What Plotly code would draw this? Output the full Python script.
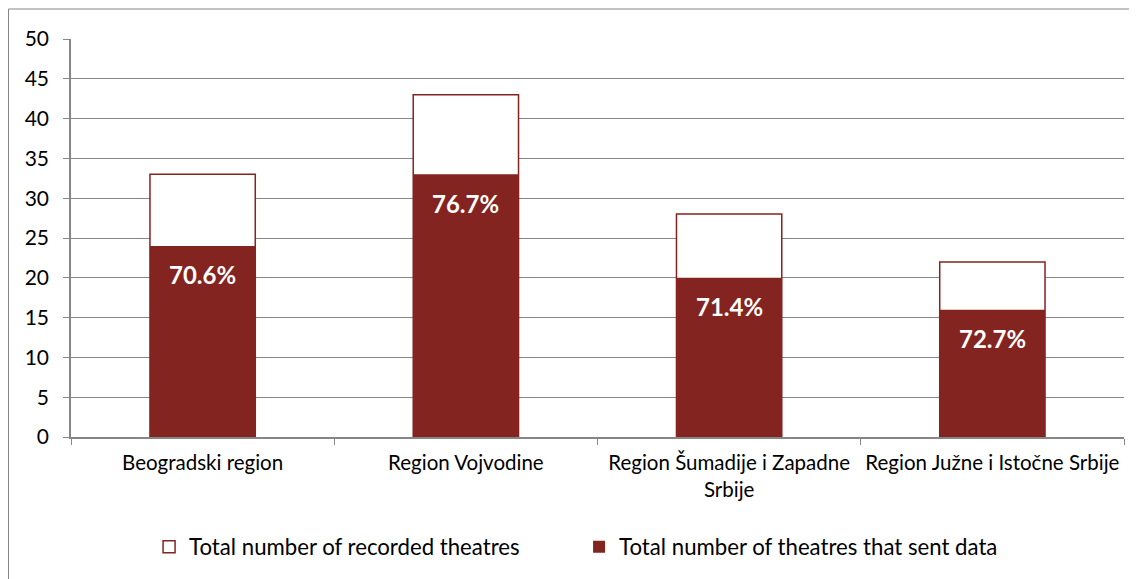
import plotly.graph_objects as go

categories = ["Beogradski region", "Region Vojvodine", "Region Šumadije i Zapadne Srbije", "Region Južne i Istočne Srbije"]
tick_labels = ["Beogradski region", "Region Vojvodine", "Region Šumadije i Zapadne<br>Srbije", "Region Južne i Istočne Srbije"]
total_recorded = [33, 43, 28, 22]
sent_data = [24, 33, 20, 16]
pct_labels = ["70.6%", "76.7%", "71.4%", "72.7%"]

RED = "#842420"
GRAY = "#868686"
FONT = "Lato"

W, H = 1129, 571
ML, MR, MT, MB = 63, 13, 31, 142
PW, PH = W - ML - MR, H - MT - MB

fig = go.Figure()
fig.add_trace(go.Bar(
    x=categories, y=total_recorded, name="Total number of recorded theatres",
    marker=dict(color="white", line=dict(color=RED, width=1.5)), width=0.4,
))
fig.add_trace(go.Bar(
    x=categories, y=sent_data, name="Total number of theatres that sent data",
    marker=dict(color=RED, line=dict(color=RED, width=0)), width=0.4,
))

for c, v, t in zip(categories, sent_data, pct_labels):
    fig.add_annotation(x=c, y=v, text="<b>" + t + "</b>", showarrow=False,
                       yshift=-29, font=dict(family=FONT, size=24, color="white"))

fig.add_shape(type="rect", xref="paper", yref="paper",
              x0=(0.5 - ML) / PW, x1=1.1, y0=-0.6, y1=1 + (MT - 1) / PH,
              line=dict(color=GRAY, width=1), fillcolor="rgba(0,0,0,0)", layer="below")

fig.update_layout(
    width=W, height=H,
    margin=dict(l=ML, r=MR, t=MT, b=MB, autoexpand=False),
    barmode="overlay",
    plot_bgcolor="white", paper_bgcolor="white",
    font=dict(family=FONT, size=21, color="black"),
    showlegend=True,
    legend=dict(orientation="h", x=0.4825, xanchor="center", y=-0.276, yanchor="middle",
                font=dict(family=FONT, size=22.2), itemwidth=30, traceorder="normal",
                entrywidth=385, entrywidthmode="pixels"),
)
fig.update_xaxes(tickmode="array", tickvals=categories, ticktext=tick_labels,
                 tickson="boundaries", ticks="outside", ticklen=6, tickcolor=GRAY,
                 showline=True, linecolor=GRAY, linewidth=1.5, showgrid=False,
                 tickangle=0, automargin=False, ticklabelstandoff=7,
                 tickfont=dict(family=FONT, size=20.5))
fig.update_yaxes(range=[0, 50], dtick=5, ticks="outside", ticklen=6, tickcolor=GRAY,
                 showline=True, linecolor=GRAY, linewidth=1.5, showgrid=True,
                 gridcolor=GRAY, gridwidth=1.2, zeroline=False, automargin=False,
                 ticklabelstandoff=10, tickfont=dict(family=FONT, size=21))

fig.write_html("out.html")
